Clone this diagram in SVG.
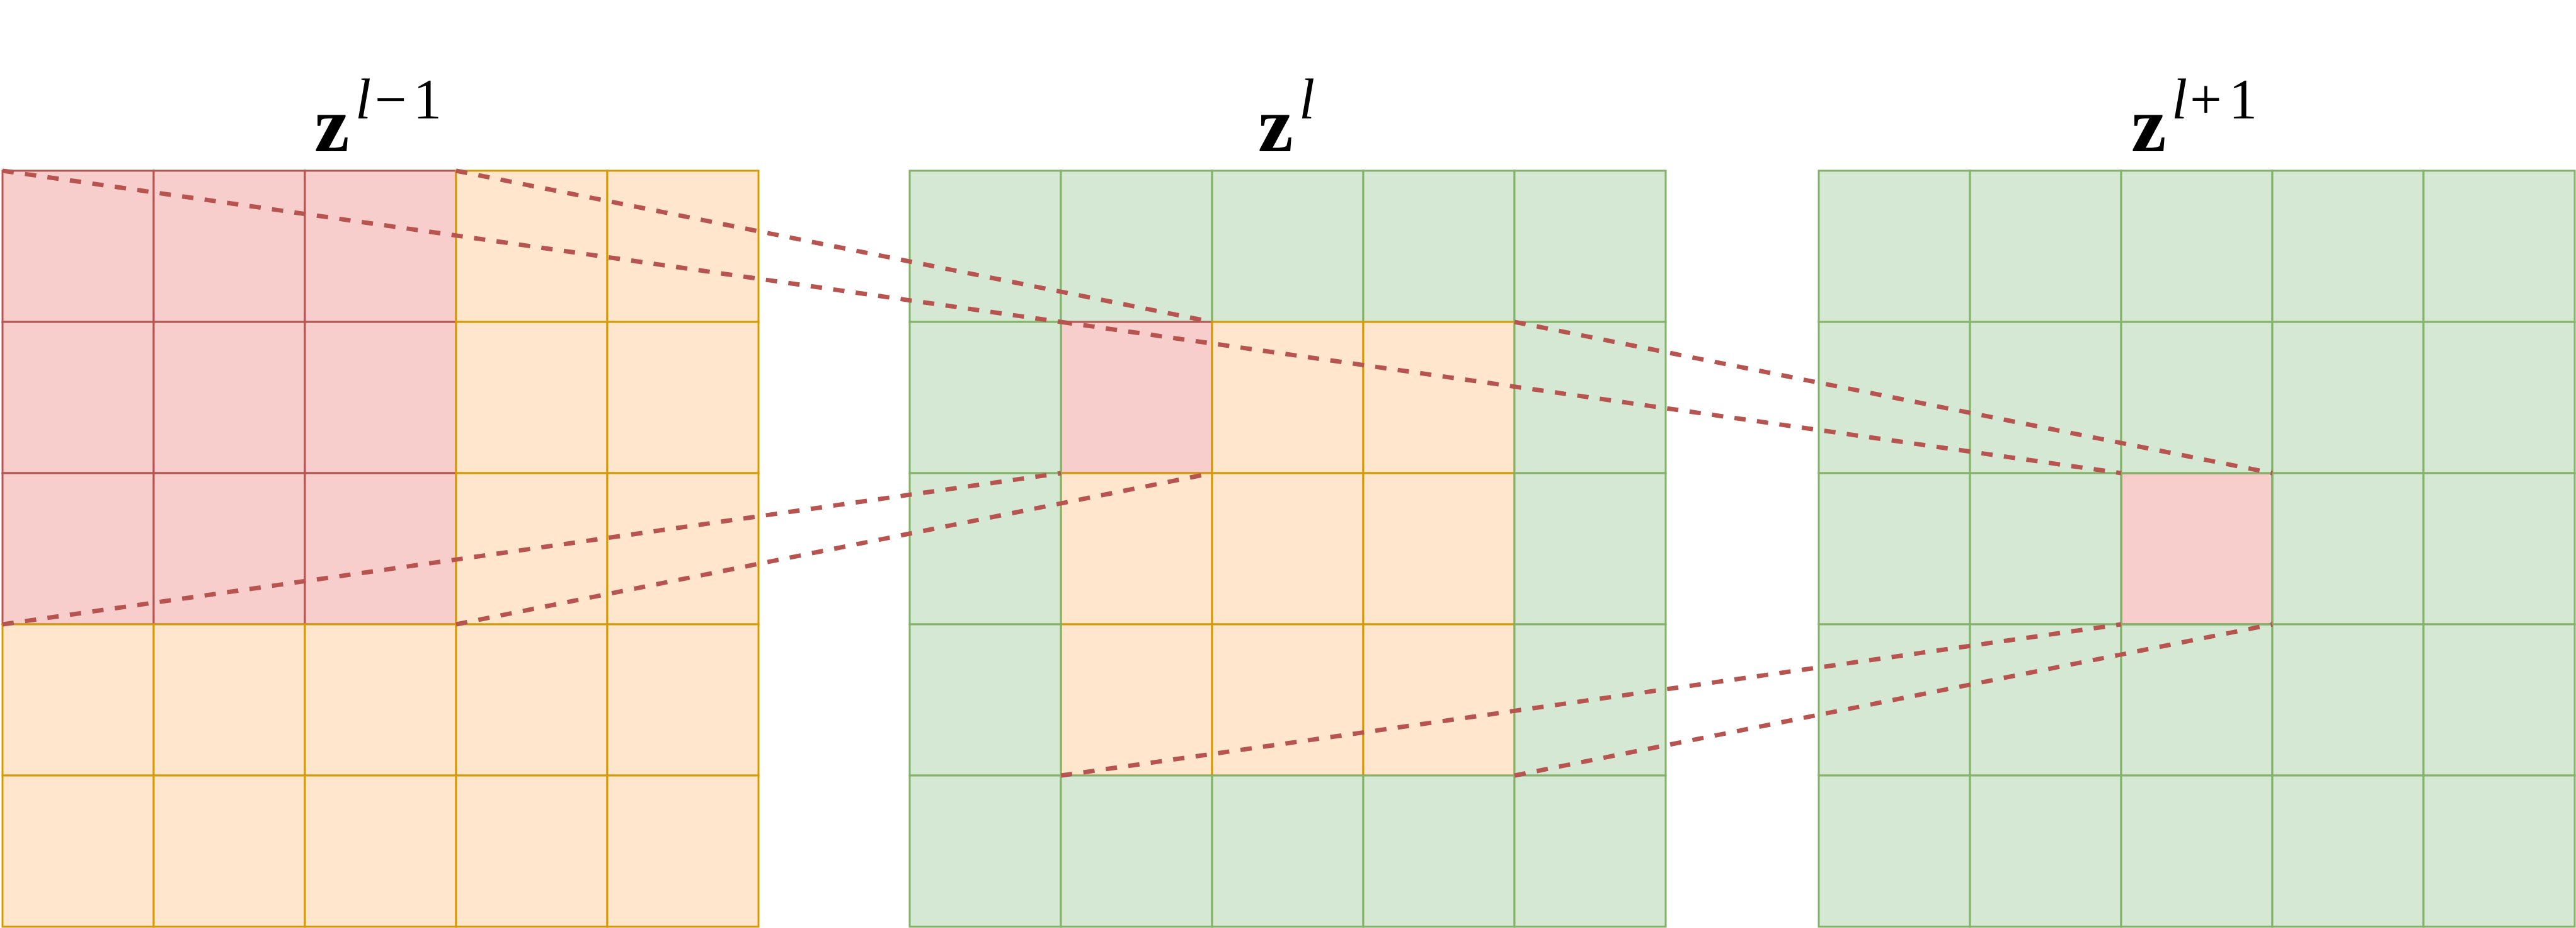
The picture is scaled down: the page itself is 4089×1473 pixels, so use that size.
<svg xmlns="http://www.w3.org/2000/svg" width="4089" height="1473" viewBox="0 0 4089 1473">
<style>
.r{fill:#f8cecc;stroke:#b85450;stroke-width:3}
.o{fill:#ffe6cc;stroke:#d79b00;stroke-width:3}
.g{fill:#d5e8d4;stroke:#82b366;stroke-width:3}
.c{fill:none;stroke:#b85450;stroke-width:7;stroke-dasharray:18 18}
.lbl{font-family:"Liberation Serif","Times New Roman",serif;fill:#000}
.z{font-size:125px;font-weight:bold}
.sup{font-size:90px}
.it{font-style:italic}
</style>
<rect width="4089" height="1473" fill="#fff"/>
<g id="grid-l-minus-1">
<rect class="r" x="4" y="271" width="240" height="240"/><rect class="r" x="244" y="271" width="240" height="240"/><rect class="r" x="484" y="271" width="240" height="240"/>
<rect class="r" x="4" y="511" width="240" height="240"/><rect class="r" x="244" y="511" width="240" height="240"/><rect class="r" x="484" y="511" width="240" height="240"/>
<rect class="r" x="4" y="751" width="240" height="240"/><rect class="r" x="244" y="751" width="240" height="240"/><rect class="r" x="484" y="751" width="240" height="240"/>
<rect class="o" x="724" y="271" width="240" height="240"/><rect class="o" x="964" y="271" width="240" height="240"/>
<rect class="o" x="724" y="511" width="240" height="240"/><rect class="o" x="964" y="511" width="240" height="240"/>
<rect class="o" x="724" y="751" width="240" height="240"/><rect class="o" x="964" y="751" width="240" height="240"/>
<rect class="o" x="4" y="991" width="240" height="240"/><rect class="o" x="244" y="991" width="240" height="240"/><rect class="o" x="484" y="991" width="240" height="240"/><rect class="o" x="724" y="991" width="240" height="240"/><rect class="o" x="964" y="991" width="240" height="240"/>
<rect class="o" x="4" y="1231" width="240" height="240"/><rect class="o" x="244" y="1231" width="240" height="240"/><rect class="o" x="484" y="1231" width="240" height="240"/><rect class="o" x="724" y="1231" width="240" height="240"/><rect class="o" x="964" y="1231" width="240" height="240"/>
<text class="lbl z" x="499" y="240" font-family="Liberation Serif, serif">z</text>
<text class="lbl sup it" x="564" y="188" font-family="Liberation Serif, serif">l</text>
<text class="lbl sup" x="595" y="188" font-family="Liberation Serif, serif">−</text>
<text class="lbl sup" x="656" y="188" font-family="Liberation Serif, serif">1</text>
</g>
<g id="grid-l">
<rect class="g" x="1444" y="271" width="240" height="240"/><rect class="g" x="1684" y="271" width="240" height="240"/><rect class="g" x="1924" y="271" width="240" height="240"/><rect class="g" x="2164" y="271" width="240" height="240"/><rect class="g" x="2404" y="271" width="240" height="240"/>
<rect class="r" x="1684" y="511" width="240" height="240"/>
<rect class="o" x="1924" y="511" width="240" height="240"/><rect class="o" x="2164" y="511" width="240" height="240"/>
<rect class="o" x="1684" y="751" width="240" height="240"/><rect class="o" x="1924" y="751" width="240" height="240"/><rect class="o" x="2164" y="751" width="240" height="240"/>
<rect class="o" x="1684" y="991" width="240" height="240"/><rect class="o" x="1924" y="991" width="240" height="240"/><rect class="o" x="2164" y="991" width="240" height="240"/>
<rect class="g" x="1444" y="511" width="240" height="240"/><rect class="g" x="2404" y="511" width="240" height="240"/>
<rect class="g" x="1444" y="751" width="240" height="240"/><rect class="g" x="2404" y="751" width="240" height="240"/>
<rect class="g" x="1444" y="991" width="240" height="240"/><rect class="g" x="2404" y="991" width="240" height="240"/>
<rect class="g" x="1444" y="1231" width="240" height="240"/><rect class="g" x="1684" y="1231" width="240" height="240"/><rect class="g" x="1924" y="1231" width="240" height="240"/><rect class="g" x="2164" y="1231" width="240" height="240"/><rect class="g" x="2404" y="1231" width="240" height="240"/>
<text class="lbl z" x="1997" y="240" font-family="Liberation Serif, serif">z</text>
<text class="lbl sup it" x="2062" y="188" font-family="Liberation Serif, serif">l</text>
</g>
<g id="grid-l-plus-1">
<rect class="r" x="3367" y="751" width="240" height="240"/>
<rect class="g" x="2887" y="271" width="240" height="240"/><rect class="g" x="3127" y="271" width="240" height="240"/><rect class="g" x="3367" y="271" width="240" height="240"/><rect class="g" x="3607" y="271" width="240" height="240"/><rect class="g" x="3847" y="271" width="240" height="240"/>
<rect class="g" x="2887" y="511" width="240" height="240"/><rect class="g" x="3127" y="511" width="240" height="240"/><rect class="g" x="3367" y="511" width="240" height="240"/><rect class="g" x="3607" y="511" width="240" height="240"/><rect class="g" x="3847" y="511" width="240" height="240"/>
<rect class="g" x="2887" y="751" width="240" height="240"/><rect class="g" x="3127" y="751" width="240" height="240"/><rect class="g" x="3607" y="751" width="240" height="240"/><rect class="g" x="3847" y="751" width="240" height="240"/>
<rect class="g" x="2887" y="991" width="240" height="240"/><rect class="g" x="3127" y="991" width="240" height="240"/><rect class="g" x="3367" y="991" width="240" height="240"/><rect class="g" x="3607" y="991" width="240" height="240"/><rect class="g" x="3847" y="991" width="240" height="240"/>
<rect class="g" x="2887" y="1231" width="240" height="240"/><rect class="g" x="3127" y="1231" width="240" height="240"/><rect class="g" x="3367" y="1231" width="240" height="240"/><rect class="g" x="3607" y="1231" width="240" height="240"/><rect class="g" x="3847" y="1231" width="240" height="240"/>
<path d="M3367 751 V991 H3607 V751 Z" fill="none" stroke="#82b366" stroke-width="3"/>
<text class="lbl z" x="3383" y="240" font-family="Liberation Serif, serif">z</text>
<text class="lbl sup it" x="3447" y="188" font-family="Liberation Serif, serif">l</text>
<text class="lbl sup" x="3476" y="188" font-family="Liberation Serif, serif">+</text>
<text class="lbl sup" x="3538" y="188" font-family="Liberation Serif, serif">1</text>
</g>
<g id="connectors">
<line class="c" x1="4" y1="271" x2="1684" y2="511"/>
<line class="c" x1="724" y1="271" x2="1924" y2="511"/>
<line class="c" x1="4" y1="991" x2="1684" y2="751"/>
<line class="c" x1="724" y1="991" x2="1924" y2="751"/>
<line class="c" x1="1684" y1="511" x2="3367" y2="751"/>
<line class="c" x1="2404" y1="511" x2="3607" y2="751"/>
<line class="c" x1="1684" y1="1231" x2="3367" y2="991"/>
<line class="c" x1="2404" y1="1231" x2="3607" y2="991"/>
</g>
</svg>
